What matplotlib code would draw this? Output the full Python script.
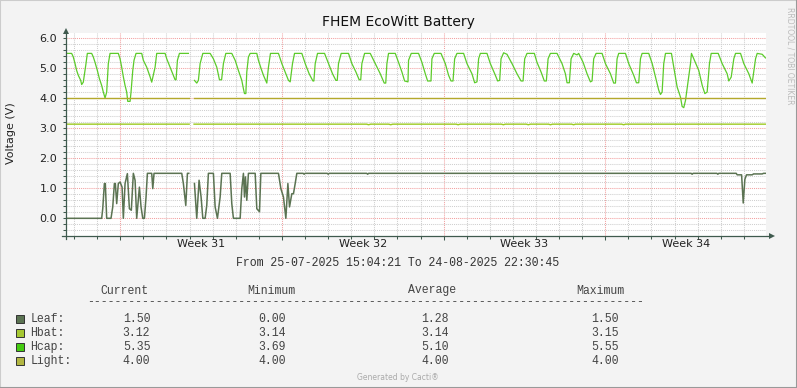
import numpy as np
import pandas as pd
import matplotlib
matplotlib.use("Agg")
import matplotlib.pyplot as plt
import matplotlib.transforms as mtransforms
from matplotlib.patches import Rectangle
from matplotlib.lines import Line2D

nan = np.nan

# time range of the graph
start = pd.Timestamp("2025-07-25 15:04:21")
end = pd.Timestamp("2025-08-24 22:30:45")

# Hcap (hours since start, volts)
hcap_hours = [
    0, 6.4, 8.1, 9.9, 11.6, 13.3, 15.8, 16.8, 18.5, 21.3, 22.7,
    27.2, 28.9, 30.7, 33.1, 35.2, 37.6, 39.3, 41.1, 42.8, 44.5, 46.3,
    54.9, 56.7, 58.4, 60.1, 61.9, 63.6, 64.7, 67.1, 68.1, 69.9, 71.2, 73.3,
    79.2, 80.9, 84.4, 87.9, 89.6, 93.1, 94.8,
    103.5, 105.2, 108.7, 112.1, 113.9, 114.9, 116.3, 118.4,
    127.7, 130.0,
    134.0, 136.4, 138.1, 139.9, 142.7,
    150.3, 153.7, 157.2, 160.0, 162.2, 164.1, 166.6,
    172.8, 176.3, 179.7, 183.2, 184.9, 186.0, 187.4, 188.4, 190.1, 191.9,
    198.8, 200.5, 203.3, 205.7, 209.2, 210.9, 213.0,
    221.3, 224.8, 228.3, 231.7, 233.5, 235.9, 238.0,
    245.6, 249.1, 253.2, 257.1, 258.1, 259.5, 261.9,
    269.2, 273.3, 277.5, 281.0, 282.4, 283.7, 286.5,
    294.1, 297.6, 301.8, 305.2, 306.8, 308.0, 310.8,
    316.7, 321.9, 327.1, 331.2, 332.8, 334.0, 335.7,
    342.7, 346.1, 349.6, 352.4, 355.9, 356.5, 359.3,
    366.9, 370.4, 373.9, 376.3, 379.8, 380.8, 383.2,
    390.2, 394.7, 398.1, 400.6, 402.7, 404.4, 406.8,
    413.7, 417.2, 422.4, 425.2, 427.6, 429.3, 431.1,
    438.0, 441.5, 446.7, 449.1, 451.2, 452.6, 455.3, 458.8,
    464.0, 469.2, 473.4, 475.5, 477.2, 479.6,
    487.2, 490.0, 494.2, 497.6, 499.7, 501.5, 503.9,
    510.8, 516.0, 519.5, 521.2, 523.6, 525.4, 528.1, 531.6, 533.3,
    537.9, 542.0, 545.5, 547.2, 548.9, 551.4,
    557.6, 561.1, 566.3, 569.7, 571.5, 573.2, 574.9,
    581.9, 585.3, 590.5, 593.3, 595.7, 597.5, 599.2,
    606.1, 609.7, 613.1, 616.5, 618.3, 620.0, 621.7, 623.5,
    629.7, 632.1, 635.6, 639.1, 640.8, 642.5, 644.3, 647.1, 649.5, 650.5, 652.9,
    658.1, 661.7, 664.4, 666.8, 669.2, 671.0,
    678.3, 682.4, 687.6, 689.3, 691.8, 694.5, 696.3,
    701.5, 704.9, 710.1, 713.6, 717.1, 718.8, 724.0, 727.4,
]
hcap_volts = [
    5.5, 5.5, 5.38, 5.16, 4.93, 4.77, 4.6, 4.46, 4.54, 5.16, 5.5,
    5.5, 5.38, 5.2, 4.93, 4.66, 4.43, 4.21, 4.01, 4.21, 5.16, 5.5,
    5.5, 5.32, 5.04, 4.72, 4.43, 4.21, 3.9, 3.9, 4.21, 4.93, 5.27, 5.5,
    5.5, 5.27, 5.04, 4.72, 4.54, 5.04, 5.5,
    5.5, 5.32, 5.04, 4.77, 4.62, 4.62, 5.27, 5.5,
    5.5, nan,
    4.6, 4.51, 4.6, 5.16, 5.5,
    5.5, 5.32, 5.04, 4.62, 4.62, 5.16, 5.5,
    5.5, 5.27, 4.93, 4.6, 4.32, 4.16, 4.16, 4.88, 5.38, 5.5,
    5.5, 5.27, 4.99, 4.77, 4.51, 5.04, 5.5,
    5.5, 5.16, 4.88, 4.6, 4.55, 5.16, 5.5,
    5.5, 5.16, 4.82, 4.58, 4.58, 5.16, 5.5,
    5.5, 5.16, 4.82, 4.6, 4.6, 5.16, 5.5,
    5.5, 5.16, 4.88, 4.62, 4.62, 5.16, 5.5,
    5.5, 5.16, 4.82, 4.51, 4.51, 5.16, 5.5,
    5.5, 5.2, 4.88, 4.58, 4.55, 5.27, 5.5,
    5.5, 5.2, 4.82, 4.58, 4.58, 5.32, 5.5,
    5.5, 5.16, 4.77, 4.58, 4.58, 5.32, 5.5,
    5.5, 5.16, 4.82, 4.52, 4.55, 5.32, 5.5,
    5.5, 5.16, 4.77, 4.58, 4.6, 5.32, 5.52, 5.47,
    5.16, 4.82, 4.58, 4.58, 5.32, 5.5,
    5.5, 5.2, 4.88, 4.58, 4.58, 5.32, 5.5,
    5.5, 5.16, 4.82, 4.52, 4.52, 5.32, 5.5, 5.45, 5.5,
    5.2, 4.82, 4.55, 4.58, 5.32, 5.5,
    5.5, 5.16, 4.82, 4.51, 4.51, 5.32, 5.5,
    5.5, 5.16, 4.77, 4.52, 4.52, 5.32, 5.5,
    5.5, 5.16, 4.72, 4.27, 4.13, 4.21, 5.16, 5.5,
    5.5, 5.04, 4.38, 4.04, 3.73, 3.69, 3.93, 4.6, 5.16, 5.5, 5.32,
    4.93, 4.43, 4.16, 4.21, 5.16, 5.5,
    5.5, 5.16, 4.82, 4.58, 4.71, 5.32, 5.5,
    5.5, 5.16, 4.82, 4.51, 5.32, 5.5, 5.47, 5.35,
]

# Leaf
leaf_hours = [
    0, 37.6, 38.7, 40.4, 41.4, 42.8, 47.3, 49.1, 50.8, 51.8, 53.2, 54.9, 56.7, 58.8, 60.1,
    61.9, 64.3, 66.4, 68.4, 70.5, 72.3, 74.0, 76.8, 78.5, 80.3, 82.0, 83.7, 85.1,
    89.6, 90.7, 92.0, 120.8, 122.5, 125.0, 126.7, 128.1, 130.0,
    134.0, 136.4, 138.8, 140.9, 142.7, 145.1, 146.8, 148.5,
    153.7, 155.5, 157.9, 160.7, 162.4, 171.1, 172.8, 174.5,
    181.5, 183.2, 184.9, 186.0, 187.0, 188.4, 190.1, 197.1, 198.8, 201.6, 203.0,
    221.3, 223.8, 226.5, 229.0, 231.1, 232.8, 235.2, 236.9, 238.7, 240.4,
    247.0, 248.0, 249.0, 272.0, 273.0, 274.0, 313.0, 314.0, 315.0,
    650.2, 651.2, 652.2, 676.9, 677.9, 678.9, 697.0, 698.0,
    702.6, 704.3, 706.0, 707.7, 713.6, 715.0, 724.0, 725.4, 727.4,
]
leaf_volts = [
    0, 0, 0.32, 1.16, 1.16, 0, 0, 0.38, 1.16, 1.16, 0.49, 1.16, 1.21, 1.04, 0,
    1.16, 1.49, 0.32, 0.27, 1.5, 1.27, 0, 1.04, 0.38, 0, 0, 0.71, 1.5,
    1.5, 0.99, 1.5, 1.5, 1.16, 0.43, 1.5, 1.5, nan,
    1.16, 0, 1.27, 0.71, 0, 0, 0.43, 1.5,
    1.5, 0.38, 0, 0.71, 1.5, 1.5, 0.49, 0,
    0, 0.99, 1.5, 0.71, 1.38, 0.6, 1.5, 1.5, 0.32, 0.22, 1.5,
    1.5, 0.99, 0.71, 0, 1.16, 0.38, 0.82, 0.82, 1.16, 1.5,
    1.5, 1.47, 1.5, 1.5, 1.47, 1.5, 1.5, 1.47, 1.5,
    1.5, 1.47, 1.5, 1.5, 1.47, 1.5, 1.5, 1.45,
    1.45, 0.51, 1.3, 1.45, 1.45, 1.48, 1.48, 1.5, 1.5,
]

# Hbat
hbat_hours = [0, 128.5, 130.0, 133.6, 313, 315, 317, 336, 338, 340, 406, 408, 410,
              453, 455, 457, 479, 481, 483, 502, 504, 506, 526, 528, 530,
              578, 580, 582, 727.4]
hbat_volts = [3.14, 3.14, nan, 3.14, 3.14, 3.12, 3.14, 3.14, 3.12, 3.14, 3.14, 3.12, 3.14,
              3.14, 3.12, 3.14, 3.14, 3.12, 3.14, 3.14, 3.12, 3.14, 3.14, 3.12, 3.14,
              3.14, 3.12, 3.14, 3.14]

# Light
light_hours = [0, 128.5, 130.0, 133.6, 727.4]
light_volts = [4.0, 4.0, nan, 4.0, 4.0]

# legend table
series_names = ["Leaf", "Hbat", "Hcap", "Light"]
stat_headers = ["Current", "Minimum", "Average", "Maximum"]
stat_current = [1.50, 3.12, 5.35, 4.00]
stat_minimum = [0.00, 3.14, 3.69, 4.00]
stat_average = [1.28, 3.14, 5.10, 4.00]
stat_maximum = [1.50, 3.15, 5.55, 4.00]

swatch_colors = ["#5B7352", "#A6C832", "#44CC11", "#B2B642"]
line_colors = ["#5B7352", "#9CC920", "#5CCB2A", "#B4A82C"]

W, H = 797, 388


def fx(x):
    return x / W


def fy(y):
    return 1 - y / H


def hours(ts):
    return (ts - start) / pd.Timedelta(hours=1)


fig = plt.figure(figsize=(W / 100, H / 100), dpi=100, facecolor="#F3F3F3")
ax = fig.add_axes([fx(65.5), fy(236), 700 / W, 203 / H])
ax.set_facecolor("white")

total = hours(end)
ax.set_xlim(0, total)
ax.set_ylim(-0.59, 6.18)

# grid
days = pd.date_range("2025-07-26", "2025-08-24", freq="D")
weeks = [d for d in days if d.weekday() == 0]
ax.set_xticks([hours(d) for d in weeks])
ax.set_xticks([hours(d) for d in days], minor=True)
ax.set_yticks(np.arange(0, 6.01, 1.0))
ax.set_yticks(np.arange(-0.4, 6.01, 0.2), minor=True)
ax.grid(which="major", color="#F2A0A0", ls=(0, (1, 1)), lw=0.75)
ax.grid(which="minor", color="#CFCFCF", ls=(0, (1, 1)), lw=0.75)
ax.set_axisbelow(True)

axcol = "#3F5A4E"
for s in ax.spines.values():
    s.set_visible(False)
ax.tick_params(axis="x", which="both", colors=axcol, labelbottom=False, direction="out", width=0.75)
ax.tick_params(axis="x", which="major", length=3)
ax.tick_params(axis="x", which="minor", length=2)
ax.tick_params(axis="y", which="both", colors=axcol, direction="out", width=0.75, length=2,
               labelsize=8, labelcolor="#222222", pad=4)
ax.set_yticklabels(["%.1f" % v for v in np.arange(0, 6.01, 1.0)])

# axis lines with arrows
ax.plot([-4 / 700, 704 / 700], [0, 0], color=axcol, lw=0.9, transform=ax.transAxes, clip_on=False, zorder=5)
ax.plot([0, 0], [-3 / 203, 1], color=axcol, lw=0.9, transform=ax.transAxes, clip_on=False, zorder=5)
ax.plot([0], [1 + 1.5 / 203], marker="^", ms=4.5, color=axcol, mew=0,
        transform=ax.transAxes, clip_on=False, zorder=5)
ax.plot([706 / 700], [0], marker=">", ms=4.5, color=axcol, mew=0,
        transform=ax.transAxes, clip_on=False, zorder=5)

# series
ax.plot(leaf_hours, leaf_volts, color=line_colors[0], lw=1.1, zorder=3)
ax.plot(hbat_hours, hbat_volts, color=line_colors[1], lw=1.0, zorder=3)
ax.plot(hcap_hours, hcap_volts, color=line_colors[2], lw=0.9, zorder=3)
ax.plot(light_hours, light_volts, color=line_colors[3], lw=1.0, zorder=3)

# week labels
trans = mtransforms.blended_transform_factory(ax.transData, fig.transFigure)
for w in weeks:
    mid = hours(w + pd.Timedelta(hours=84))
    ax.text(mid, fy(244), "Week %d" % w.isocalendar()[1], transform=trans,
            ha="center", va="center", fontsize=8, color="#222222")

# texts
fig.text(fx(398.5), fy(22), "FHEM EcoWitt Battery", ha="center", va="center", fontsize=10, color="#111111")
fig.text(fx(11), fy(133), "Voltage (V)", ha="center", va="center", rotation=90, fontsize=8, color="#222222")
fig.text(fx(398), fy(263), "From %s To %s" % (start.strftime("%d-%m-%Y %H:%M:%S"), end.strftime("%d-%m-%Y %H:%M:%S")),
         ha="center", va="center", fontsize=8.3, family="Liberation Mono", color="#333333")
fig.text(fx(790), fy(56), "RRDTOOL / TOBI OETIKER", ha="center", va="center", rotation=270,
         fontsize=5.5, color="#BBBBBB")
fig.text(fx(398), fy(377), "Generated by Cacti\u00ae", ha="center", va="center", fontsize=5.5, color="#AAAAAA")

# legend table
mono = dict(family="Liberation Mono", fontsize=8.3, color="#444444", va="center")
for cx, hd in zip([124, 271, 432, 600], stat_headers):
    fig.text(fx(cx), fy(290.5), hd, ha="center", **mono)
fig.text(fx(87), fy(302), "-" * 81, ha="left", **mono)
row_y = [319, 333, 347, 361]
cols = [stat_current, stat_minimum, stat_average, stat_maximum]
for i, name in enumerate(series_names):
    fig.patches.append(Rectangle((fx(16), fy(row_y[i] + 4)), 8 / W, 8 / H, transform=fig.transFigure,
                                 facecolor=swatch_colors[i], edgecolor="#333333", lw=0.7))
    fig.text(fx(30.5), fy(row_y[i]), name + ":", ha="left", **mono)
    for cx, col in zip([136.5, 272, 435, 605], cols):
        fig.text(fx(cx), fy(row_y[i]), "%.2f" % col[i], ha="center", **mono)

# border
fig.lines.append(Line2D([0, 0, 1], [0, 1, 1], transform=fig.transFigure, color="#CCCCCC", lw=1.5))
fig.lines.append(Line2D([0, 1, 1], [0, 0, 1], transform=fig.transFigure, color="#999999", lw=1.5))

fig.savefig("out.png", dpi=100, facecolor=fig.get_facecolor())
